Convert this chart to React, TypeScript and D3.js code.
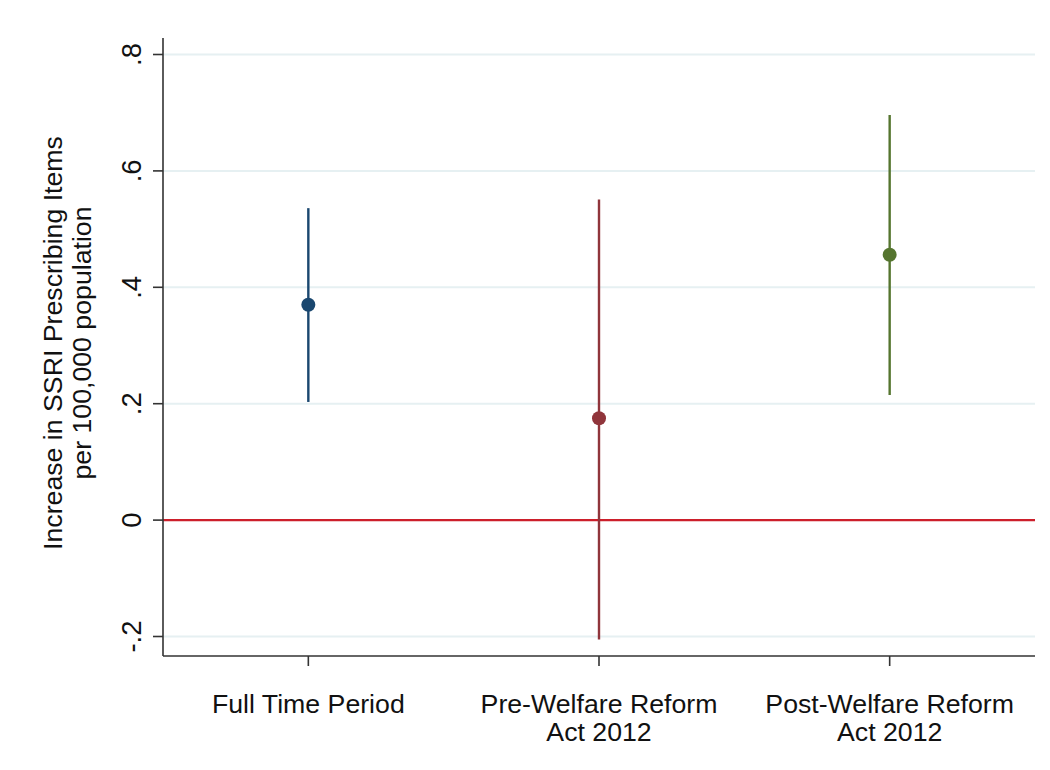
import React from "react";
import * as d3 from "d3";

const categories = ["Full Time Period", "Pre-Welfare Reform|Act 2012", "Post-Welfare Reform|Act 2012"];
const estimates = [0.370, 0.175, 0.456];
const lowerCI = [0.203, -0.205, 0.215];
const upperCI = [0.536, 0.551, 0.696];
const colors = ["#1a476f", "#90353b", "#55752f"];
const yTicks = [-0.2, 0, 0.2, 0.4, 0.6, 0.8];
const yTickLabels = ["-.2", "0", ".2", ".4", ".6", ".8"];

const W = 1050, H = 770;
const left = 163, right = 1035, top = 38, bottom = 656;
const font = "'Liberation Sans', Arial, sans-serif";

export default function App() {
  const x = d3.scaleLinear().domain([0.5, 3.5]).range([left, right]);
  const y = d3.scaleLinear().domain([-0.2, 0.8]).range([636.5, 54.5]);
  return (
    <svg width={W} height={H} style={{ position: "absolute", left: 0, top: 0, background: "#fff" }}>
      <rect x={0} y={0} width={W} height={H} fill="#fff" />
      {yTicks.map((t, i) =>
        t === 0 ? null : (
          <line key={"g" + i} x1={left} x2={right} y1={y(t)} y2={y(t)} stroke="#e6f0f2" strokeWidth={2} />
        )
      )}
      <line x1={left} x2={right} y1={y(0)} y2={y(0)} stroke="#cc1f2b" strokeWidth={2.4} />
      {categories.map((c, i) => (
        <g key={"s" + i}>
          <line x1={x(i + 1)} x2={x(i + 1)} y1={y(lowerCI[i])} y2={y(upperCI[i])} stroke={colors[i]} strokeWidth={2.4} />
          <circle cx={x(i + 1)} cy={y(estimates[i])} r={7} fill={colors[i]} />
        </g>
      ))}
      <line x1={left} x2={left} y1={top} y2={bottom} stroke="#333" strokeWidth={1.6} />
      <line x1={left} x2={right} y1={bottom} y2={bottom} stroke="#333" strokeWidth={1.6} />
      {yTicks.map((t, i) => (
        <g key={"yt" + i}>
          <line x1={left - 10} x2={left} y1={y(t)} y2={y(t)} stroke="#333" strokeWidth={1.6} />
          <text
            transform={`translate(141,${y(t)}) rotate(-90)`}
            textAnchor="middle"
            fontFamily={font}
            fontSize={27.5}
            fill="#111"
          >
            {yTickLabels[i]}
          </text>
        </g>
      ))}
      {categories.map((c, i) => (
        <g key={"xt" + i}>
          <line x1={x(i + 1)} x2={x(i + 1)} y1={bottom} y2={bottom + 10} stroke="#333" strokeWidth={1.6} />
          {c.split("|").map((ln, j) => (
            <text key={j} x={x(i + 1)} y={713 + j * 28} textAnchor="middle" fontFamily={font} fontSize={26.7} fill="#111">
              {ln}
            </text>
          ))}
        </g>
      ))}
      <text transform="translate(62,343) rotate(-90)" textAnchor="middle" fontFamily={font} fontSize={26.7} fill="#111">
        Increase in SSRI Prescribing Items
      </text>
      <text transform="translate(91,343) rotate(-90)" textAnchor="middle" fontFamily={font} fontSize={26.7} fill="#111">
        per 100,000 population
      </text>
    </svg>
  );
}
